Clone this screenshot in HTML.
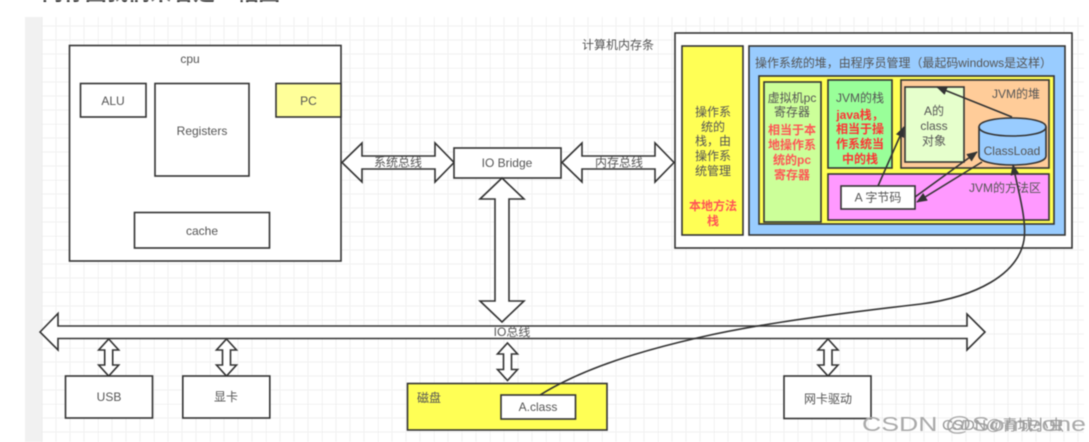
<!DOCTYPE html>
<html><head><meta charset="utf-8">
<style>
html,body{margin:0;padding:0;background:#fff;width:1089px;height:442px;overflow:hidden}
svg{display:block;filter:blur(0.4px)}
text{font-family:"Liberation Sans","Noto Sans CJK SC",sans-serif;font-size:12px;fill:#555;text-anchor:middle}
.b{fill:#fff;stroke:#333;stroke-width:1.6}
.r{fill:#ff5555;font-weight:bold}
.k{fill:none;stroke:#333;stroke-width:1.6}
</style></head><body>
<svg width="1089" height="442" viewBox="0 0 1089 442" xmlns="http://www.w3.org/2000/svg">
<defs>
<pattern id="g" width="56" height="56" patternUnits="userSpaceOnUse" x="42" y="12">
<path d="M14 0V56M28 0V56M42 0V56M0 14H56M0 28H56M0 42H56" stroke="#f1f1f1" stroke-width="1" fill="none"/>
<path d="M0 0V56M0 0H56" stroke="#e6e6e6" stroke-width="1" fill="none"/>
</pattern>
<marker id="A" markerWidth="11" markerHeight="9" refX="10" refY="4.5" orient="auto" markerUnits="userSpaceOnUse"><path d="M0 0L11 4.5L0 9Z" fill="#333"/></marker>
</defs>
<rect width="1089" height="442" fill="#fff"/>
<text x="28" y="0" textLength="252" lengthAdjust="spacingAndGlyphs" style="font-size:21px;font-weight:bold;fill:#333;text-anchor:start">• 内存图我们来看是一幅图</text>
<rect x="25" y="17" width="17" height="425" fill="#f1f1f1"/>
<rect x="42" y="17" width="1042" height="425" fill="url(#g)"/>

<!-- CPU -->
<rect class="b" x="69.5" y="45.5" width="271.5" height="215.5"/>
<text x="190" y="63">cpu</text>
<rect class="b" x="80.5" y="83.5" width="65.5" height="33.5"/><text x="113" y="105">ALU</text>
<rect class="b" x="155" y="83.5" width="94" height="92.5"/><text x="202" y="135">Registers</text>
<rect x="276" y="83.5" width="65" height="33.5" fill="#ffff99" stroke="#333" stroke-width="1.6"/><text x="308.500" y="105">PC</text>
<rect class="b" x="134.500" y="212.500" width="135" height="35.500"/><text x="202" y="235">cache</text>

<text x="618" y="49">计算机内存条</text>

<!-- Bridge and bus arrows -->
<path class="b" d="M342 162.500L362 143V156H435V143L454 162.500L435 182V169H362V182Z"/>
<text x="398" y="166.500">系统总线</text>
<rect class="b" x="454" y="148" width="107" height="30"/><text x="507" y="167">IO Bridge</text>
<path class="b" d="M562 162.500L582 143V156H655V143L674 162.500L655 182V169H582V182Z"/>
<text x="619" y="166.500">内存总线</text>
<path class="b" d="M502 178L524 199H509V301H524L502 322L480 301H495V199H480Z"/>

<!-- IO bus -->
<path class="b" d="M40 332L58 313.500V326H967V314L985 332L967 350V338.500H58V350Z"/>
<text x="512" y="336">IO总线</text>

<!-- small arrows -->
<path class="b" d="M108.700 339L118.700 350H112.700V365H118.700L108.700 376L98.700 365H104.700V350H98.700Z"/>
<path class="b" d="M226.500 339L236.500 350H230.500V365H236.500L226.500 376L216.500 365H222.500V350H216.500Z"/>
<path class="b" d="M507.500 343L517.500 354H511.500V369.500H517.500L507.500 380.500L497.500 369.500H503.500V354H497.500Z"/>
<path class="b" d="M828 339L838 350H832V365H838L828 376L818 365H824V350H818Z"/>

<!-- Devices -->
<rect class="b" x="65.500" y="376" width="87" height="42"/><text x="109" y="401">USB</text>
<rect class="b" x="182.800" y="376" width="87" height="42"/><text x="226" y="401">显卡</text>
<rect x="407.500" y="383.500" width="199.500" height="46.500" fill="#ffff55" stroke="#333" stroke-width="1.600"/>
<text x="429" y="402">磁盘</text>
<rect class="b" x="501" y="395" width="74.500" height="24"/><text x="538" y="411">A.class</text>
<rect class="b" x="784" y="376" width="87" height="42.500"/><text x="828" y="403">网卡驱动</text>

<!-- Memory -->
<rect class="b" x="675" y="33" width="397" height="215"/>
<rect x="682" y="46" width="61" height="189" fill="#ffff55" stroke="#333" stroke-width="1.600"/>
<text x="713" y="116">操作系</text><text x="713" y="131">统的</text><text x="713" y="145">栈，由</text><text x="713" y="160">操作系</text><text x="713" y="175">统管理</text>
<text x="713" y="210" class="r">本地方法</text><text x="713" y="225" class="r">栈</text>
<rect x="749" y="46" width="316" height="189" fill="#99ccff" stroke="#333" stroke-width="1.600"/>
<text x="903.500" y="67" textLength="297" lengthAdjust="spacingAndGlyphs">操作系统的堆，由程序员管理（最起码windows是这样）</text>
<rect x="759" y="76" width="295" height="148" fill="#ffff55" stroke="#333" stroke-width="1.600"/>
<rect x="764" y="82" width="57" height="140" fill="#ccff99" stroke="#333" stroke-width="1.600"/>
<text x="792" y="102">虚拟机pc</text><text x="792" y="116">寄存器</text>
<text x="792" y="134" class="r">相当于本</text><text x="792" y="149" class="r">地操作系</text><text x="792" y="164" class="r">统的pc</text><text x="792" y="179" class="r">寄存器</text>
<rect x="828" y="80" width="64" height="88" fill="#99ff99" stroke="#333" stroke-width="1.600"/>
<text x="860" y="102">JVM的栈</text>
<text x="860" y="119" class="r" style="fill:#ff3333">java栈，</text><text x="860" y="133" class="r" style="fill:#ff3333">相当于操</text><text x="860" y="148" class="r" style="fill:#ff3333">作系统当</text><text x="860" y="163" class="r" style="fill:#ff3333">中的栈</text>
<rect x="901" y="80" width="148" height="88" fill="#ffcc99" stroke="#333" stroke-width="1.600"/>
<text x="1016" y="98">JVM的堆</text>
<rect x="905" y="87" width="59" height="75" fill="#e6ffcc" stroke="#333" stroke-width="1.600"/>
<text x="934" y="115">A的</text><text x="934" y="130">class</text><text x="934" y="145">对象</text>
<rect x="828" y="174" width="221" height="46" fill="#ff99ff" stroke="#333" stroke-width="1.600"/>
<text x="1005" y="192">JVM的方法区</text>
<rect class="b" x="841" y="186" width="74" height="23"/><text x="878" y="201.500">A 字节码</text>
<path d="M979 127C979 115 1046 115 1046 127V156C1046 168 979 168 979 156Z" fill="#99ccff" stroke="#333" stroke-width="1.600"/>
<path class="k" d="M979 127C979 139 1046 139 1046 127"/>
<text x="1012" y="155">ClassLoad</text>

<!-- connectors -->
<path class="k" d="M878 186L904 127" marker-end="url(#A)"/>
<path class="k" d="M1012 117L937 87" marker-end="url(#A)"/>
<path class="k" d="M915 197L977 152" marker-end="url(#A)"/>
<path class="k" d="M982 162L917 202" marker-end="url(#A)"/>
<path class="k" d="M540 395C585 367 645 350 697 338C745 327 800 318 921 304C975 297 1018 275 1024 240C1027 220 1018 190 1013 165" marker-end="url(#A)"/>

<!-- watermark -->
<text x="862" y="431" textLength="224" lengthAdjust="spacingAndGlyphs" style="font-size:20px;fill:#aaa;text-anchor:start">CSDN @Someone</text>
<text x="942" y="430" textLength="122" lengthAdjust="spacingAndGlyphs" style="font-size:15px;fill:#999;text-anchor:start">CSDN@青城小虫</text>
</svg>
</body></html>
